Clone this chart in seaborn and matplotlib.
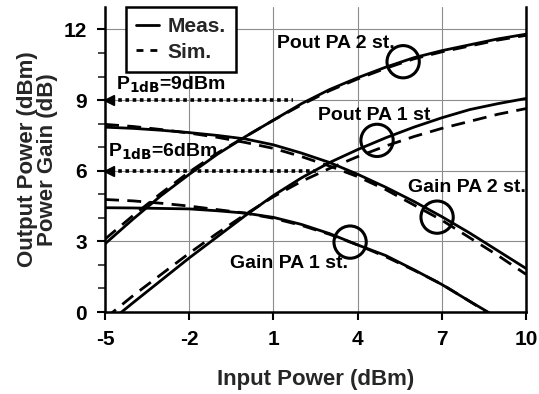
import numpy as np
import pandas as pd
import matplotlib
matplotlib.use("Agg")
import matplotlib.pyplot as plt
from matplotlib.lines import Line2D
import seaborn as sns

# Input power sweep (dBm)
pin = [-5, -4, -3, -2, -1, 0, 1, 2, 3, 4, 5, 6, 7, 8, 9, 10]

# Output power (dBm) and power gain (dB), measured and simulated
pout2_meas = [2.9, 3.95, 4.95, 5.85, 6.7, 7.45, 8.15, 8.85, 9.45, 9.95, 10.4, 10.8, 11.1, 11.35, 11.6, 11.8]
pout2_sim = [3.1, 4.1, 5.05, 5.95, 6.75, 7.45, 8.15, 8.8, 9.4, 9.9, 10.35, 10.75, 11.05, 11.3, 11.55, 11.75]
pout1_meas = [-0.57, 0.4, 1.35, 2.3, 3.2, 4.1, 4.95, 5.7, 6.35, 6.9, 7.4, 7.85, 8.25, 8.6, 8.85, 9.07]
pout1_sim = [-0.27, 0.7, 1.6, 2.5, 3.35, 4.15, 4.9, 5.55, 6.1, 6.6, 7.05, 7.45, 7.8, 8.1, 8.4, 8.64]
gain2_meas = [7.85, 7.8, 7.72, 7.62, 7.5, 7.35, 7.1, 6.75, 6.35, 5.85, 5.3, 4.7, 4.05, 3.35, 2.6, 1.85]
gain2_sim = [7.97, 7.88, 7.75, 7.6, 7.42, 7.2, 6.95, 6.6, 6.2, 5.75, 5.2, 4.55, 3.9, 3.15, 2.4, 1.6]
gain1_meas = [4.43, 4.42, 4.4, 4.38, 4.3, 4.2, 4.02, 3.72, 3.33, 2.85, 2.4, 1.8, 1.17, 0.45, -0.25, -0.95]
gain1_sim = [4.78, 4.72, 4.62, 4.5, 4.35, 4.2, 3.98, 3.68, 3.3, 2.85, 2.35, 1.78, 1.18, 0.45, -0.3, -1.0]

# 1-dB compression points
p1db_2st = 9
p1db_1st = 6
p1db_2st_end = 1.7
p1db_1st_end = 2.5

# highlighted points on each curve
circle_x = [5.62, 4.69, 6.83, 3.73]
circle_y = [10.63, 7.29, 4.03, 2.97]

series = {
    ("Pout PA 2 st.", "Meas."): pout2_meas,
    ("Pout PA 2 st.", "Sim."): pout2_sim,
    ("Pout PA 1 st", "Meas."): pout1_meas,
    ("Pout PA 1 st", "Sim."): pout1_sim,
    ("Gain PA 2 st.", "Meas."): gain2_meas,
    ("Gain PA 2 st.", "Sim."): gain2_sim,
    ("Gain PA 1 st.", "Meas."): gain1_meas,
    ("Gain PA 1 st.", "Sim."): gain1_sim,
}
rows = []
for (curve, kind), vals in series.items():
    for x, y in zip(pin, vals):
        rows.append({"pin": x, "val": y, "curve": curve + " " + kind, "kind": kind})
df = pd.DataFrame(rows)

sns.set_style("ticks")
plt.rcParams["font.family"] = ["Liberation Sans", "DejaVu Sans"]
plt.rcParams["font.weight"] = "bold"
plt.rcParams["axes.unicode_minus"] = False

fig = plt.figure(figsize=(5.39, 3.94), dpi=100)
ax = fig.add_axes([0.195, 0.208, 0.781, 0.774])

lw = 2.0
sns.lineplot(data=df, x="pin", y="val", units="curve", estimator=None,
             style="kind", dashes={"Meas.": "", "Sim.": (5, 3)},
             color="black", linewidth=lw, legend=False, sort=False, ax=ax)

# P1dB arrows
for yv, xe in [(p1db_2st, p1db_2st_end), (p1db_1st, p1db_1st_end)]:
    ax.plot([-4.8, xe], [yv, yv], color="black", lw=2.6,
            linestyle=(0, (1, 1)), dash_capstyle="butt", zorder=4)
    ax.plot([-4.85], [yv], marker="<", color="black", markersize=7,
            clip_on=False, zorder=5, linestyle="none")

# circle markers
ax.scatter(circle_x, circle_y, s=540, facecolors="none", edgecolors="black",
           linewidths=2.2, zorder=6)

ax.set_xlim(-5, 10)
ax.set_ylim(0, 12.95)
ax.set_xticks([-5, -2, 1, 4, 7, 10])
ax.set_yticks([0, 3, 6, 9, 12])
ax.set_yticks(np.arange(0, 13, 1), minor=True)
ax.grid(True, which="major", color="#8c8c8c", linewidth=0.8)
ax.set_axisbelow(True)

for side in ["left", "bottom", "right"]:
    ax.spines[side].set_linewidth(1.8)
    ax.spines[side].set_color("black")
ax.spines["top"].set_visible(False)

ax.tick_params(axis="both", which="major", direction="out", length=6, width=1.5,
               labelsize=15, pad=7, colors="black")
ax.tick_params(axis="y", which="minor", direction="out", length=5, width=1.2)
ax.tick_params(axis="x", which="minor", length=0)
for lab in ax.get_xticklabels() + ax.get_yticklabels():
    lab.set_fontweight("bold")

ax.set_xlabel("Input Power (dBm)", fontsize=16, fontweight="bold", labelpad=14)
ax.set_ylabel("Output Power (dBm)\nPower Gain (dB)", fontsize=16,
              fontweight="bold", labelpad=4, linespacing=0.95)

txt = dict(fontsize=14, fontweight="bold", color="black", va="center")
ax.text(1.13, 11.4, "Pout PA 2 st.", ha="left", **txt)
ax.text(2.6, 8.35, "Pout PA 1 st", ha="left", **txt)
ax.text(5.8, 5.3, "Gain PA 2 st.", ha="left", **txt)
ax.text(-0.55, 2.07, "Gain PA 1 st.", ha="left", **txt)
ax.text(-4.6, 9.65, r"P$_{\mathbf{1dB}}$=9dBm", ha="left", **txt)
ax.text(-4.9, 6.8, r"P$_{\mathbf{1dB}}$=6dBm", ha="left", **txt)

handles = [Line2D([], [], color="black", lw=lw),
           Line2D([], [], color="black", lw=lw, dashes=(2.5, 2.5))]
leg = ax.legend(handles, ["Meas.", "Sim."], loc="upper left",
                bbox_to_anchor=(126 / 539, 1 - 7 / 394), bbox_transform=fig.transFigure,
                borderaxespad=0, fancybox=False, framealpha=1, edgecolor="black",
                handlelength=1.1, handletextpad=0.4, borderpad=0.5, labelspacing=0.3,
                prop={"size": 15, "weight": "bold"})
leg.get_frame().set_linewidth(1.8)
leg.set_zorder(10)

fig.savefig("out.png", dpi=100)
